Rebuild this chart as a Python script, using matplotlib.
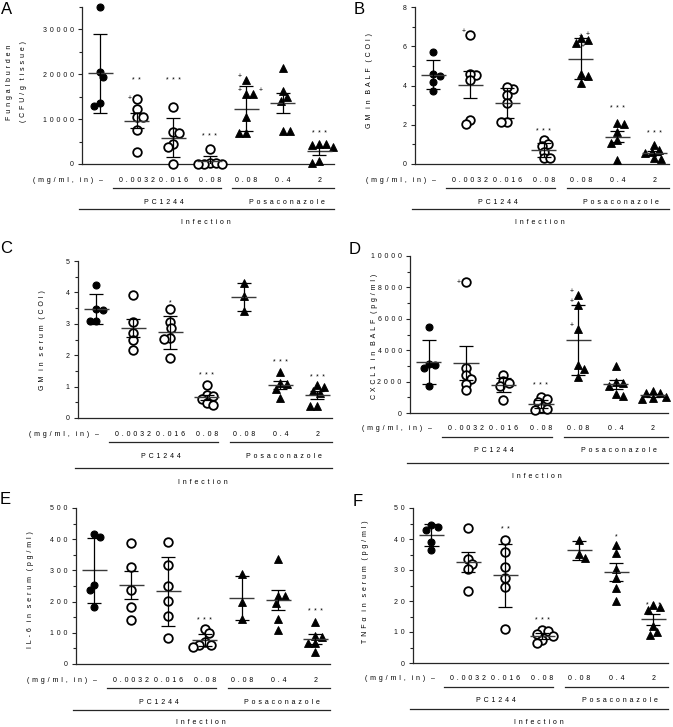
import matplotlib
matplotlib.use('Agg')
import matplotlib.pyplot as plt
import numpy as np
from matplotlib.ticker import MultipleLocator, FuncFormatter
from matplotlib.transforms import blended_transform_factory, offset_copy

plt.rcParams['font.family'] = ['Liberation Sans', 'DejaVu Sans']

W, H = 673, 727

# ---- data ---------------------------------------------------------------
doses = ['–', '0.0032', '0.016', '0.08', '0.08', '0.4', '2']

A_vals = [[35000, 20600, 19300, 13500, 12900],
          [14500, 12200, 10500, 10500, 7600, 2750],
          [12800, 7200, 6800, 4450, 3850, 0],
          [3300, 300, 200, 100, 50, 0],
          [18700, 15500, 15500, 10500, 6800, 6800],
          [21300, 16300, 15000, 14000, 7350, 7350],
          [4450, 4250, 4450, 3850, 150, 650]]
A_err = [8800, 1700, 4300, 1200, 5000, 2250, 850]

B_vals = [[5.69, 4.6, 4.49, 4.2, 3.74],
          [6.59, 4.54, 4.6, 4.26, 2.25, 2.04],
          [3.81, 3.91, 3.52, 3.13, 2.16, 2.16],
          [1.23, 1.0, 0.92, 0.63, 0.29, 0.29],
          [6.33, 6.43, 6.18, 4.6, 4.49, 4.14],
          [2.04, 2.08, 1.65, 1.23, 1.06, 0.2],
          [0.97, 0.71, 0.63, 0.54, 0.29, 0.24]]
B_err = [0.73, 0.68, 0.78, 0.35, 1.05, 0.28, 0.12]

C_vals = [[4.25, 3.45, 3.46, 3.1, 3.09],
          [3.93, 3.07, 2.72, 2.48, 2.17],
          [3.46, 3.07, 2.88, 2.56, 2.51, 1.9],
          [1.04, 0.72, 0.69, 0.6, 0.48, 0.42],
          [4.3, 3.88, 3.41],
          [1.48, 1.11, 1.08, 0.92, 0.63],
          [1.0, 1.04, 0.79, 0.85, 0.37, 0.37]]
C_err = [0.47, 0.29, 0.53, 0.08, 0.45, 0.13, 0.13]

D_vals = [[5500, 3050, 3150, 2850, 1750],
          [8330, 2860, 2440, 2160, 1860, 1440],
          [2440, 2010, 1910, 1690, 850],
          [1020, 890, 680, 320, 250, 210],
          [7520, 6890, 5340, 3070, 2800, 2270],
          [3010, 1950, 1910, 1740, 1230, 1100],
          [1400, 1300, 1250, 1000, 950, 900]]
D_err = [1400, 1060, 450, 250, 2250, 300, 100]

E_vals = [[418, 407, 253, 237, 184],
          [389, 311, 238, 184, 141],
          [391, 317, 250, 203, 154, 83],
          [113, 99, 69, 62, 62, 54],
          [288, 200, 145],
          [336, 218, 218, 197, 144, 110],
          [134, 90, 88, 67, 67, 38]]
E_err = [105, 45, 111, 20, 70, 32, 15]

F_vals = [[44.4, 43.9, 43.0, 39.1, 36.4],
          [43.6, 33.5, 31.9, 30.2, 23.3],
          [39.8, 35.9, 31.0, 27.3, 24.6, 10.9],
          [10.5, 10.2, 9.4, 8.8, 7.5, 6.6],
          [39.6, 35.3, 34.0],
          [38.0, 35.5, 30.2, 27.3, 24.1, 20.1],
          [18.7, 18.2, 17.1, 11.8, 9.9, 9.1]]
F_err = [3.6, 3.3, 10.2, 1.0, 3.2, 2.9, 1.8]

# significance marks: (group, text, y value)
A_stars = [(1, '**', 18700), (2, '***', 18700), (3, '***', 6100), (6, '***', 6800)]
B_stars = [(3, '***', 1.65), (5, '***', 2.84), (6, '***', 1.57)]
C_stars = [(2, '*', 3.68), (3, '***', 1.34), (5, '***', 1.77), (6, '***', 1.29)]
D_stars = [(3, '***', 1760)]
E_stars = [(3, '***', 139), (6, '***', 168)]
F_stars = [(2, '**', 43), (3, '***', 13.7), (5, '*', 40.7), (6, '***', 18.4)]

# '+' marks next to single points: (group, point index, x side, y side)
A_plus = [(1, 0, -1, 0), (4, 0, -1, 1), (4, 1, -1, 1), (4, 2, 1, 1)]
B_plus = [(1, 0, -1, 1), (4, 0, -1, 1), (4, 1, 1, 1), (4, 2, 1, -1)]
D_plus = [(1, 0, -1, 0), (4, 0, -1, 1), (4, 1, -1, 1), (4, 2, -1, 1)]

panels = [
    dict(letter='A', lpos=(7, 9), box=(82, 7, 334, 164), ymax=35000, major=10000, minor=5000,
         ylabel=['Fungalburden', '(CFU/g tissue)'], ylx=[10, 24], yly=82,
         vals=A_vals, err=A_err, stars=A_stars, plus=A_plus, drop=(45, 59)),
    dict(letter='B', lpos=(359, 9), box=(415, 7, 669, 164), ymax=8, major=2, minor=1,
         ylabel=['GM in BALF (COI)'], ylx=[369], yly=80,
         vals=B_vals, err=B_err, stars=B_stars, plus=B_plus, drop=(45, 59)),
    dict(letter='C', lpos=(6, 249), box=(78, 261, 332, 418), ymax=5, major=1, minor=0.5,
         ylabel=['GM in serum (COI)'], ylx=[42], yly=340,
         vals=C_vals, err=C_err, stars=C_stars, plus=[], drop=(50, 64)),
    dict(letter='D', lpos=(355, 250), box=(410, 256, 668, 413), ymax=10000, major=2000, minor=1000,
         ylabel=['CXCL1 in BALF (pg/ml)'], ylx=[375], yly=336,
         vals=D_vals, err=D_err, stars=D_stars, plus=D_plus, drop=(50, 64)),
    dict(letter='E', lpos=(5, 500), box=(76, 508, 330, 664), ymax=500, major=100, minor=50,
         ylabel=['IL-6 in serum (pg/ml)'], ylx=[30], yly=590,
         vals=E_vals, err=E_err, stars=E_stars, plus=[], drop=(46, 59)),
    dict(letter='F', lpos=(358, 501), box=(413, 508, 668, 663), ymax=50, major=10, minor=5,
         ylabel=['TNFα in serum (pg/ml)'], ylx=[366], yly=582,
         vals=F_vals, err=F_err, stars=F_stars, plus=[], drop=(46, 59)),
]

FS = 5
XMIN, XMAX = -0.5, 6.4
DARK = '#262626'
GAP = '\u2005\u2006'


def spaced(s):
    # the original uses very wide letter tracking
    return (GAP * 2).join(GAP.join(w) for w in s.split(' '))


def swarm(ax, vals, d_px):
    vals = np.asarray(vals, float)
    ys = ax.transData.transform(np.column_stack([np.zeros(len(vals)), vals]))[:, 1]
    ppx = ax.transData.transform((1, 0))[0] - ax.transData.transform((0, 0))[0]
    offs = np.zeros(len(vals))
    placed = []
    side = 1
    cands = np.arange(-30, 30.01, 0.5)
    for i in np.argsort(-vals, kind='stable'):
        order = sorted(cands, key=lambda c: (abs(c), -side * c))
        for c in order:
            if all((c - px) ** 2 + (ys[i] - py) ** 2 >= d_px ** 2 for px, py in placed):
                break
        if c != 0:
            side = -side
        placed.append((c, ys[i]))
        offs[i] = c / ppx
    return offs


fig = plt.figure(figsize=(W / 100, H / 100), dpi=100)

for p in panels:
    l, t, r, b = p['box']
    ax = fig.add_axes([l / W, 1 - b / H, (r - l) / W, (b - t) / H])
    ax.set_xlim(XMIN, XMAX)
    ax.set_ylim(0, p['ymax'])
    for s in ['top', 'right']:
        ax.spines[s].set_visible(False)
    for s in ['left', 'bottom']:
        ax.spines[s].set_color(DARK)
        ax.spines[s].set_linewidth(0.9)
    ax.set_xticks([])
    ax.yaxis.set_major_locator(MultipleLocator(p['major']))
    ax.yaxis.set_minor_locator(MultipleLocator(p['minor']))
    ax.yaxis.set_major_formatter(FuncFormatter(lambda v, pos: spaced(f'{v:g}')))
    ax.tick_params(axis='y', which='major', length=3, width=0.8, color=DARK,
                   labelsize=FS, pad=3, labelcolor='#111111')
    ax.tick_params(axis='y', which='minor', length=2, width=0.8, color=DARK)
    ax.patch.set_visible(False)

    xpos = {}
    for g, vals in enumerate(p['vals']):
        if g == 0:
            style = dict(marker='o', ms=5, mfc='black', mec='black', mew=0.8)
            d = 6.5
        elif g <= 3:
            style = dict(marker='o', ms=6.2, mfc='white', mec='black', mew=1.3)
            d = 6
        else:
            style = dict(marker='^', ms=6, mfc='black', mec='black', mew=0.6)
            d = 7
        xs = g + swarm(ax, vals, d)
        xpos[g] = xs
        ax.plot(xs, vals, ls='none', clip_on=False, zorder=3, **style)
        m = np.mean(vals)
        e = p['err'][g]
        ax.hlines(m, g - 0.34, g + 0.34, color='#3a3a3a', lw=1.0, zorder=4)
        ax.vlines(g, m - e, m + e, color='black', lw=0.9, zorder=4)
        ax.hlines([m - e, m + e], g - 0.19, g + 0.19, color='black', lw=0.9, zorder=4)

    for g, txt, y in p['stars']:
        ax.text(g, y, '\u2002'.join(txt), ha='center', va='center', fontsize=FS,
                zorder=5)

    for g, i, sx, sy in p['plus']:
        ax.annotate('+', xy=(xpos[g][i], p['vals'][g][i]), xytext=(sx * 5, sy * 2.5),
                    textcoords='offset points', ha='center', va='center', fontsize=FS)

    # dose row and group brackets below the axis
    bt = blended_transform_factory(ax.transData, ax.transAxes)

    def at(dy):
        return offset_copy(bt, fig=fig, x=0, y=-dy, units='dots')

    for g, lab in enumerate(doses):
        if g == 0:
            ax.text(0.08, 0, spaced('(mg/ml, in)') + GAP * 2 + lab, transform=at(16),
                    ha='right', va='center', fontsize=FS, clip_on=False)
        else:
            ax.text(g, 0, spaced(lab), transform=at(16), ha='center', va='center',
                    fontsize=FS, clip_on=False)
    ax.plot([0.35, 3.3], [0, 0], transform=at(24), color=DARK, lw=0.9, clip_on=False)
    ax.plot([3.62, XMAX], [0, 0], transform=at(24), color=DARK, lw=0.9, clip_on=False)
    ax.text(1.75, 0, spaced('PC1244'), transform=at(38), ha='center', va='center',
            fontsize=FS, clip_on=False)
    ax.text(5.1, 0, spaced('Posaconazole'), transform=at(38), ha='center', va='center',
            fontsize=FS, clip_on=False)
    d1, d2 = p['drop']
    ax.plot([-0.58, XMAX], [0, 0], transform=at(d1), color=DARK, lw=0.9, clip_on=False)
    ax.text(2.9, 0, spaced('Infection'), transform=at(d2), ha='center', va='center',
            fontsize=FS, clip_on=False)

    # y label(s) and panel letter
    for lab, x in zip(p['ylabel'], p['ylx']):
        fig.text(x / W, 1 - p['yly'] / H, spaced(lab), rotation=90, ha='center',
                 va='center', fontsize=FS)
    fig.text(p['lpos'][0] / W, 1 - p['lpos'][1] / H, p['letter'], ha='center',
             va='center', fontsize=12)

fig.savefig('out.png', dpi=100)
